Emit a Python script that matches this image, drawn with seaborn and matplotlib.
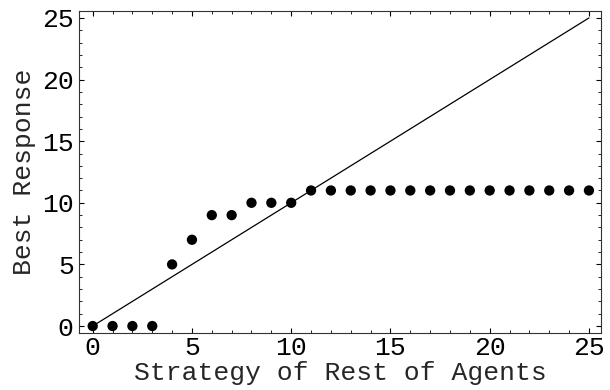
import numpy as np
import pandas as pd
import matplotlib
matplotlib.use("Agg")
import matplotlib.pyplot as plt
import seaborn as sns
from matplotlib.ticker import MultipleLocator

# Data
strategy = list(range(26))
best_response = [0, 0, 0, 0, 5, 7, 9, 9, 10, 10, 10, 11, 11, 11, 11, 11,
                 11, 11, 11, 11, 11, 11, 11, 11, 11, 11]
diag_x = [0, 25]
diag_y = [0, 25]
xticks = [0, 5, 10, 15, 20, 25]
yticks = [0, 5, 10, 15, 20, 25]

sns.set_theme(style="ticks")
plt.rcParams['font.family'] = ['Liberation Mono', 'DejaVu Sans Mono']
plt.rcParams['font.size'] = 19

df = pd.DataFrame({"x": strategy, "y": best_response})
line_df = pd.DataFrame({"x": diag_x, "y": diag_y})

fig, ax = plt.subplots(figsize=(6.1, 3.9), dpi=100)
fig.subplots_adjust(left=0.130, right=0.985, top=0.972, bottom=0.146)

sns.lineplot(data=line_df, x="x", y="y", ax=ax, color="black", linewidth=0.9)
sns.scatterplot(data=df, x="x", y="y", ax=ax, color="black", s=55,
                edgecolor="none", zorder=3)

ax.set_xlim(-0.675, 25.6)
ax.set_ylim(-0.57, 25.57)
ax.set_xticks(xticks)
ax.set_yticks(yticks)
ax.xaxis.set_minor_locator(MultipleLocator(1))
ax.yaxis.set_minor_locator(MultipleLocator(1))
ax.tick_params(which="both", direction="in", top=True, right=True,
               colors="black", labelsize=19)
ax.tick_params(which="major", length=3.6, width=0.8)
ax.tick_params(which="minor", length=2.0, width=0.6)
ax.tick_params(axis="x", which="major", pad=2)
ax.tick_params(axis="y", which="major", pad=4)
for s in ax.spines.values():
    s.set_visible(True)
    s.set_linewidth(0.8)
    s.set_color("#333333")

ax.set_xlabel("Strategy of Rest of Agents", fontsize=19, labelpad=1)
ax.set_ylabel("Best Response", fontsize=19, labelpad=4)

fig.savefig("out.png", dpi=100)
